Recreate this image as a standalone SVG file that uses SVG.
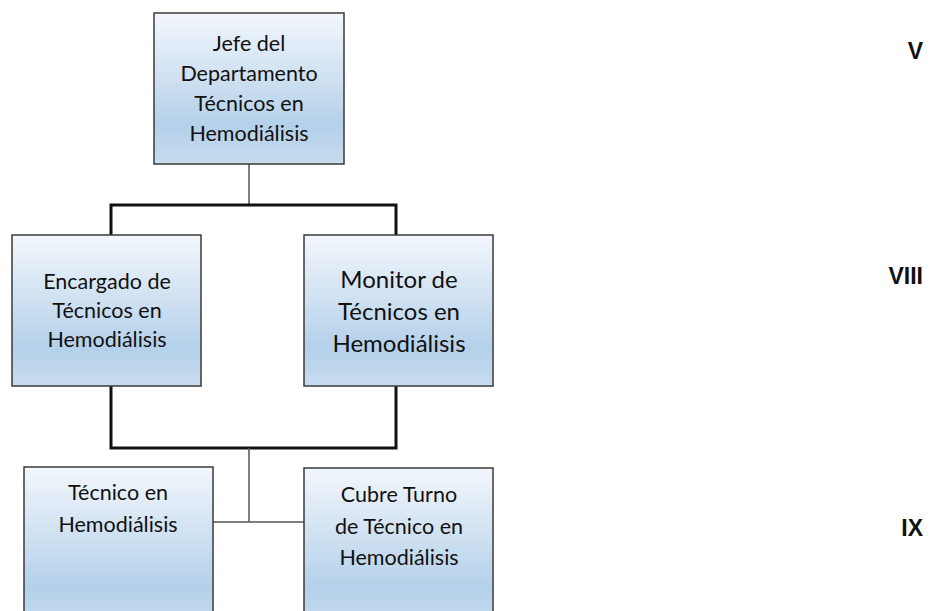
<svg xmlns="http://www.w3.org/2000/svg" width="930" height="611" viewBox="0 0 930 611">
<defs>
<linearGradient id="g" x1="0" y1="0" x2="0" y2="1">
<stop offset="0" stop-color="#f3f7fc"/>
<stop offset="0.75" stop-color="#b4d0ea"/>
<stop offset="1" stop-color="#c8dcef"/>
</linearGradient>
<style>
.box{fill:url(#g);stroke:#3a3a3a;stroke-width:1.5}
.t{font-family:Lato,"Liberation Sans",sans-serif;font-size:21.5px;fill:#111;text-anchor:middle}
.tb{font-size:24px}
.thin{stroke:#555;stroke-width:1.5;fill:none}
.thick{stroke:#111;stroke-width:3;fill:none}
.rn{font-family:"Liberation Sans",Arial,sans-serif;font-weight:bold;font-size:23px;fill:#111;text-anchor:end}
</style>
</defs>
<rect width="930" height="611" fill="#fff"/>
<g id="connectors">
<line class="thin" x1="249" y1="164" x2="249" y2="205"/>
<polyline class="thick" points="111,235 111,205 396,205 396,235"/>
<polyline class="thick" points="111,386 111,448 396,448 396,386"/>
<line class="thin" x1="249" y1="448" x2="249" y2="522"/>
<line class="thin" x1="213" y1="522" x2="304" y2="522"/>
</g>
<g id="jefe">
<rect class="box" x="154" y="13" width="190" height="151"/>
<text class="t" x="249" y="51">Jefe del</text>
<text class="t" x="249" y="81">Departamento</text>
<text class="t" x="249" y="111">Técnicos en</text>
<text class="t" x="249" y="141">Hemodiálisis</text>
</g>
<g id="encargado">
<rect class="box" x="12" y="235" width="189" height="151"/>
<text class="t" x="107" y="289">Encargado de</text>
<text class="t" x="107" y="318">Técnicos en</text>
<text class="t" x="107" y="347">Hemodiálisis</text>
</g>
<g id="monitor">
<rect class="box" x="304" y="235" width="189" height="151"/>
<text class="t tb" x="399" y="288">Monitor de</text>
<text class="t tb" x="399" y="320">Técnicos en</text>
<text class="t tb" x="399" y="352">Hemodiálisis</text>
</g>
<g id="tecnico">
<rect class="box" x="24" y="467" width="189" height="160"/>
<text class="t" x="118" y="500">Técnico en</text>
<text class="t" x="118" y="532">Hemodiálisis</text>
</g>
<g id="cubre">
<rect class="box" x="304" y="468" width="189" height="160"/>
<text class="t" x="399" y="502">Cubre Turno</text>
<text class="t" x="399" y="534">de Técnico en</text>
<text class="t" x="399" y="565">Hemodiálisis</text>
</g>
<g id="levels">
<text class="rn" x="923" y="59">V</text>
<text class="rn" x="923" y="284">VIII</text>
<text class="rn" x="923" y="536">IX</text>
</g>
</svg>
